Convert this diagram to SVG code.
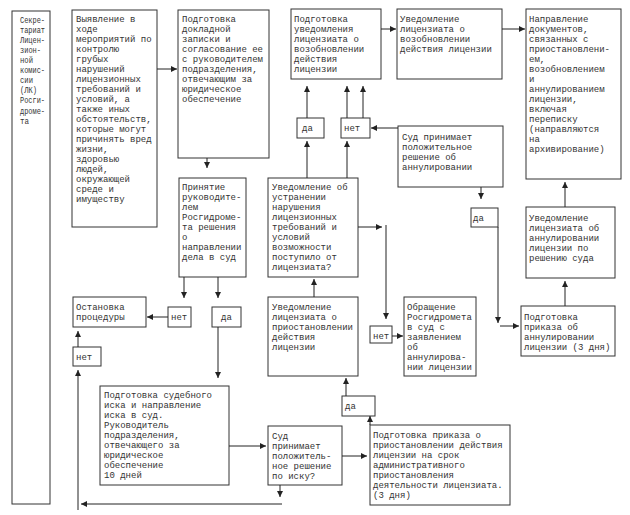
<svg xmlns="http://www.w3.org/2000/svg" width="630" height="515" viewBox="0 0 630 515">
<defs>
<marker id="ah" markerWidth="6" markerHeight="6" refX="6" refY="3" orient="auto" markerUnits="userSpaceOnUse">
<path d="M0,0 L6,3 L0,6 z" fill="#222"/>
</marker>
<style>
.b{fill:#fff;stroke:#333;stroke-width:1}
.t{font-family:"Liberation Mono","DejaVu Sans Mono",monospace;font-size:9px;fill:#333}
.c{fill:none;stroke:#222;stroke-width:1}
.a{fill:none;stroke:#222;stroke-width:1;marker-end:url(#ah)}
</style>
</defs>
<rect width="630" height="515" fill="#fff"/>

<g id="secretariat">
<rect class="b" x="12" y="11" width="38" height="493"/>
<text class="t" x="20" y="23" textLength="25" lengthAdjust="spacingAndGlyphs">Секре-</text>
<text class="t" x="20" y="33" textLength="25" lengthAdjust="spacingAndGlyphs">тариат</text>
<text class="t" x="20" y="43" textLength="25" lengthAdjust="spacingAndGlyphs">Лицен-</text>
<text class="t" x="20" y="53" textLength="21" lengthAdjust="spacingAndGlyphs">зион-</text>
<text class="t" x="20" y="63" textLength="13" lengthAdjust="spacingAndGlyphs">ной</text>
<text class="t" x="20" y="73" textLength="25" lengthAdjust="spacingAndGlyphs">комис-</text>
<text class="t" x="20" y="83" textLength="13" lengthAdjust="spacingAndGlyphs">сии</text>
<text class="t" x="20" y="93" textLength="17" lengthAdjust="spacingAndGlyphs">(ЛК)</text>
<text class="t" x="20" y="103" textLength="25" lengthAdjust="spacingAndGlyphs">Росги-</text>
<text class="t" x="20" y="114" textLength="25" lengthAdjust="spacingAndGlyphs">дроме-</text>
<text class="t" x="20" y="124" textLength="9" lengthAdjust="spacingAndGlyphs">та</text>
</g>

<g id="detection">
<rect class="b" x="72" y="10" width="85" height="217"/>
<text class="t" x="76" y="22">Выявление в</text>
<text class="t" x="76" y="32">ходе</text>
<text class="t" x="76" y="42">мероприятий по</text>
<text class="t" x="76" y="52">контролю</text>
<text class="t" x="76" y="62">грубых</text>
<text class="t" x="76" y="72">нарушений</text>
<text class="t" x="76" y="82">лицензионных</text>
<text class="t" x="76" y="92">требований и</text>
<text class="t" x="76" y="102">условий, а</text>
<text class="t" x="76" y="112">также иных</text>
<text class="t" x="76" y="122">обстоятельств,</text>
<text class="t" x="76" y="132">которые могут</text>
<text class="t" x="76" y="142">причинять вред</text>
<text class="t" x="76" y="152">жизни,</text>
<text class="t" x="76" y="162">здоровью</text>
<text class="t" x="76" y="172">людей,</text>
<text class="t" x="76" y="182">окружающей</text>
<text class="t" x="76" y="192">среде и</text>
<text class="t" x="76" y="202">имуществу</text>
</g>

<g id="memo">
<rect class="b" x="178" y="10" width="91" height="148"/>
<text class="t" x="182" y="22">Подготовка</text>
<text class="t" x="182" y="32">докладной</text>
<text class="t" x="182" y="42">записки и</text>
<text class="t" x="182" y="52">согласование ее</text>
<text class="t" x="182" y="62">с руководителем</text>
<text class="t" x="182" y="72">подразделения,</text>
<text class="t" x="182" y="82">отвечающим за</text>
<text class="t" x="182" y="92">юридическое</text>
<text class="t" x="182" y="102">обеспечение</text>
</g>

<g id="decision-court">
<rect class="b" x="179" y="178" width="67" height="99"/>
<text class="t" x="182" y="190">Принятие</text>
<text class="t" x="182" y="200">руководите-</text>
<text class="t" x="182" y="210">лем</text>
<text class="t" x="182" y="220">Росгидроме-</text>
<text class="t" x="182" y="230">та решения</text>
<text class="t" x="182" y="240">о</text>
<text class="t" x="182" y="250">направлении</text>
<text class="t" x="182" y="260">дела в суд</text>
</g>

<g id="prep-renewal">
<rect class="b" x="291" y="9" width="90" height="70"/>
<text class="t" x="294" y="22">Подготовка</text>
<text class="t" x="294" y="32">уведомления</text>
<text class="t" x="294" y="42">лицензиата о</text>
<text class="t" x="294" y="52">возобновлении</text>
<text class="t" x="294" y="62">действия</text>
<text class="t" x="294" y="72">лицензии</text>
</g>

<g id="notice-renewal">
<rect class="b" x="397" y="9" width="105" height="70"/>
<text class="t" x="400" y="22">Уведомление</text>
<text class="t" x="400" y="32">лицензиата о</text>
<text class="t" x="400" y="42">возобновлении</text>
<text class="t" x="400" y="52">действия лицензии</text>
</g>

<g id="archive">
<rect class="b" x="526" y="9" width="95" height="170"/>
<text class="t" x="529" y="22">Направление</text>
<text class="t" x="529" y="32">документов,</text>
<text class="t" x="529" y="42">связанных с</text>
<text class="t" x="529" y="52">приостановлени-</text>
<text class="t" x="529" y="62">ем,</text>
<text class="t" x="529" y="72">возобновлением</text>
<text class="t" x="529" y="82">и</text>
<text class="t" x="529" y="92">аннулированием</text>
<text class="t" x="529" y="102">лицензии,</text>
<text class="t" x="529" y="112">включая</text>
<text class="t" x="529" y="122">переписку</text>
<text class="t" x="529" y="132">(направляются</text>
<text class="t" x="529" y="142">на</text>
<text class="t" x="529" y="152">архивирование)</text>
</g>

<g id="yes-top">
<rect class="b" x="297" y="118" width="27" height="20"/>
<text class="t" x="302" y="131">да</text>
</g>
<g id="no-top">
<rect class="b" x="341" y="118" width="29" height="20"/>
<text class="t" x="344" y="131">нет</text>
</g>

<g id="court-annul">
<rect class="b" x="398" y="126" width="105" height="61"/>
<text class="t" x="402" y="140">Суд принимает</text>
<text class="t" x="402" y="150">положительное</text>
<text class="t" x="402" y="160">решение об</text>
<text class="t" x="402" y="170">аннулировании</text>
</g>

<g id="yes-right">
<rect class="b" x="471" y="208" width="27" height="19"/>
<text class="t" x="473" y="221">да</text>
</g>

<g id="notice-annul">
<rect class="b" x="526" y="207" width="89" height="71"/>
<text class="t" x="529" y="221">Уведомление</text>
<text class="t" x="529" y="231">лицензиата об</text>
<text class="t" x="529" y="241">аннулировании</text>
<text class="t" x="529" y="251">лицензии по</text>
<text class="t" x="529" y="261">решению суда</text>
</g>

<g id="elimination">
<rect class="b" x="268" y="178" width="90" height="99"/>
<text class="t" x="272" y="190">Уведомление об</text>
<text class="t" x="272" y="200">устранении</text>
<text class="t" x="272" y="210">нарушения</text>
<text class="t" x="272" y="220">лицензионных</text>
<text class="t" x="272" y="230">требований и</text>
<text class="t" x="272" y="240">условий</text>
<text class="t" x="272" y="250">возможности</text>
<text class="t" x="272" y="260">поступило от</text>
<text class="t" x="272" y="270">лицензиата?</text>
</g>

<g id="order-annul">
<rect class="b" x="521" y="306" width="94" height="50"/>
<text class="t" x="524" y="320">Подготовка</text>
<text class="t" x="524" y="330">приказа об</text>
<text class="t" x="524" y="340">аннулировании</text>
<text class="t" x="524" y="350">лицензии (3 дня)</text>
</g>

<g id="appeal">
<rect class="b" x="404" y="297" width="72" height="79"/>
<text class="t" x="407" y="310">Обращение</text>
<text class="t" x="407" y="320">Росгидромета</text>
<text class="t" x="407" y="330">в суд с</text>
<text class="t" x="407" y="340">заявлением</text>
<text class="t" x="407" y="350">об</text>
<text class="t" x="407" y="360">аннулирова-</text>
<text class="t" x="407" y="370">нии лицензии</text>
</g>

<g id="no-mid">
<rect class="b" x="370" y="326" width="22" height="17"/>
<text class="t" x="373" y="339">нет</text>
</g>

<g id="notice-suspend">
<rect class="b" x="268" y="297" width="90" height="79"/>
<text class="t" x="272" y="310">Уведомление</text>
<text class="t" x="272" y="320">лицензиата о</text>
<text class="t" x="272" y="330">приостановлении</text>
<text class="t" x="272" y="340">действия</text>
<text class="t" x="272" y="350">лицензии</text>
</g>

<g id="stop">
<rect class="b" x="73" y="297" width="73" height="30"/>
<text class="t" x="76" y="310">Остановка</text>
<text class="t" x="76" y="320">процедуры</text>
</g>

<g id="no-left">
<rect class="b" x="168" y="307" width="23" height="20"/>
<text class="t" x="171" y="320">нет</text>
</g>
<g id="yes-left">
<rect class="b" x="212" y="307" width="29" height="20"/>
<text class="t" x="221" y="320">да</text>
</g>

<g id="no-bottom">
<rect class="b" x="73" y="347" width="28" height="19"/>
<text class="t" x="76" y="360">нет</text>
</g>

<g id="lawsuit">
<rect class="b" x="100" y="386" width="129" height="99"/>
<text class="t" x="104" y="398">Подготовка судебного</text>
<text class="t" x="104" y="408">иска и направление</text>
<text class="t" x="104" y="418">иска в суд.</text>
<text class="t" x="104" y="428">Руководитель</text>
<text class="t" x="104" y="438">подразделения,</text>
<text class="t" x="104" y="448">отвечающего за</text>
<text class="t" x="104" y="458">юридическое</text>
<text class="t" x="104" y="468">обеспечение</text>
<text class="t" x="104" y="478">10 дней</text>
</g>

<g id="court-suit">
<rect class="b" x="268" y="426" width="74" height="59"/>
<text class="t" x="272" y="439">Суд</text>
<text class="t" x="272" y="449">принимает</text>
<text class="t" x="272" y="459">положитель-</text>
<text class="t" x="272" y="469">ное решение</text>
<text class="t" x="272" y="479">по иску?</text>
</g>

<g id="yes-bottom">
<rect class="b" x="342" y="396" width="33" height="20"/>
<text class="t" x="345" y="409">да</text>
</g>

<g id="order-suspend">
<rect class="b" x="370" y="425" width="140" height="80"/>
<text class="t" x="373" y="438">Подготовка приказа о</text>
<text class="t" x="373" y="448">приостановлении действия</text>
<text class="t" x="373" y="458">лицензии на срок</text>
<text class="t" x="373" y="468">административного</text>
<text class="t" x="373" y="478">приостановления</text>
<text class="t" x="373" y="488">деятельности лицензиата.</text>
<text class="t" x="373" y="498">(3 дня)</text>
</g>

<g id="connectors">
<line class="a" x1="157" y1="69" x2="177" y2="69"/>
<line class="a" x1="207" y1="158" x2="207" y2="168"/>
<line class="a" x1="184" y1="277" x2="184" y2="298"/>
<line class="a" x1="218" y1="277" x2="218" y2="298"/>
<line class="a" x1="168" y1="317" x2="147" y2="317"/>
<line class="a" x1="218" y1="327" x2="218" y2="378"/>
<line class="a" x1="229" y1="446" x2="266" y2="446"/>
<line class="a" x1="342" y1="456" x2="367" y2="456"/>
<line class="a" x1="280" y1="485" x2="280" y2="497"/>
<line class="a" x1="282" y1="504" x2="81" y2="504"/>
<line class="a" x1="78" y1="510" x2="78" y2="370"/>
<line class="a" x1="78" y1="347" x2="78" y2="331"/>
<line class="a" x1="370" y1="425" x2="370" y2="416"/>
<line class="a" x1="346" y1="396" x2="346" y2="378"/>
<line class="a" x1="314" y1="297" x2="314" y2="279"/>
<line class="a" x1="307" y1="178" x2="307" y2="141"/>
<line class="a" x1="347" y1="178" x2="347" y2="141"/>
<line class="a" x1="307" y1="118" x2="307" y2="86"/>
<line class="a" x1="347" y1="118" x2="347" y2="86"/>
<line class="a" x1="363" y1="118" x2="363" y2="86"/>
<line class="a" x1="398" y1="128" x2="371" y2="128"/>
<line class="a" x1="381" y1="29" x2="396" y2="29"/>
<line class="a" x1="502" y1="29" x2="525" y2="29"/>
<line class="a" x1="358" y1="227" x2="382" y2="227"/>
<line class="a" x1="386" y1="225" x2="386" y2="319"/>
<line class="a" x1="392" y1="336" x2="403" y2="336"/>
<line class="a" x1="481" y1="187" x2="481" y2="199"/>
<line class="a" x1="498" y1="227" x2="498" y2="323"/>
<line class="a" x1="500" y1="326" x2="519" y2="326"/>
<line class="a" x1="565" y1="306" x2="565" y2="281"/>
<line class="a" x1="565" y1="207" x2="565" y2="182"/>
</g>
</svg>
